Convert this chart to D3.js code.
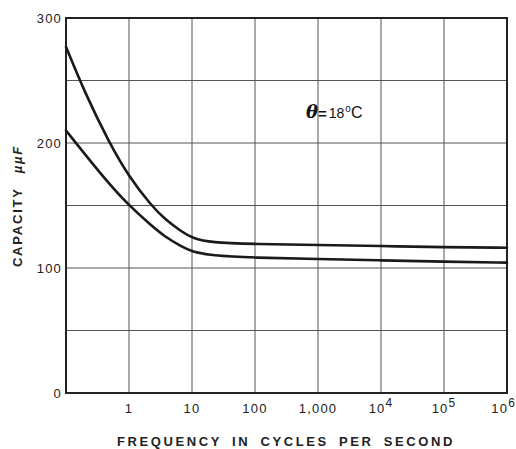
<!DOCTYPE html>
<html>
<head>
<meta charset="utf-8">
<script src="https://cdn.jsdelivr.net/npm/d3@7"></script>
<style>
  body { margin: 0; background: #fff; }
  svg { display: block; font-family: "Liberation Sans", Arial, sans-serif; }
</style>
</head>
<body>
<svg id="chart" width="516" height="449"></svg>
<script>
// Frequency (c/s) and capacity (µµF) at 18 °C
const upperFreq = [0.1, 0.2, 0.488, 1, 2.26, 3.7, 6.9, 10, 20, 100, 1000, 1e4, 1e5, 1e6];
const upperCap  = [277, 240, 200, 173, 150, 139, 129, 124, 120.2, 119.2, 118.4, 117.6, 116.6, 116.2];
const lowerFreq = [0.1, 0.43, 1, 2.26, 3.7, 6.9, 10, 20, 100, 1000, 1e4, 1e5, 1e6];
const lowerCap  = [210, 170, 150, 134, 125, 117, 113, 110, 108.2, 107.2, 106.1, 105, 104.3];

const xTicks = [1, 10, 100, 1000, 1e4, 1e5, 1e6];
const xTickLabels = ["1", "10", "100", "1,000", "10|4", "10|5", "10|6"];
const yTicks = [0, 100, 200, 300];
const yGrid = [50, 100, 150, 200, 250];

const svg = d3.select("#chart");
const m = { left: 66, right: 507, top: 18, bottom: 393 };

const x = d3.scaleLog().domain([0.1, 1e6]).range([m.left, m.right]);
const y = d3.scaleLinear().domain([0, 300]).range([m.bottom, m.top]);

// grid
svg.append("g").selectAll("line").data(xTicks).join("line")
  .attr("x1", d => x(d)).attr("x2", d => x(d))
  .attr("y1", m.top).attr("y2", m.bottom)
  .attr("stroke", "#555").attr("stroke-width", 1);
svg.append("g").selectAll("line").data(yGrid).join("line")
  .attr("x1", m.left).attr("x2", m.right)
  .attr("y1", d => y(d)).attr("y2", d => y(d))
  .attr("stroke", "#555").attr("stroke-width", 1);

// frame
svg.append("rect")
  .attr("x", m.left).attr("y", m.top)
  .attr("width", m.right - m.left).attr("height", m.bottom - m.top)
  .attr("fill", "none").attr("stroke", "#222").attr("stroke-width", 2);

// curves (smoothed B-spline through the measured points)
const line = d3.line().curve(d3.curveBasis);
function drawCurve(fs, cs) {
  svg.append("path")
    .attr("d", line(fs.map((f, i) => [x(f), y(cs[i])])))
    .attr("fill", "none").attr("stroke", "#1a1a1a").attr("stroke-width", 2.6)
    .attr("stroke-linecap", "round");
}
drawCurve(upperFreq, upperCap);
drawCurve(lowerFreq, lowerCap);

// y tick labels
svg.append("g").selectAll("text").data(yTicks).join("text")
  .attr("x", m.left - 4).attr("y", d => y(d) + 5)
  .attr("text-anchor", "end").attr("font-size", 13).attr("letter-spacing", 1.2)
  .attr("fill", "#222")
  .text(d => d);

// x tick labels (powers shown with superscript exponent)
const last = xTicks.length - 1;
const xl = svg.append("g").selectAll("text").data(xTicks).join("text")
  .attr("x", (d, i) => i === last ? x(d) + 9 : x(d)).attr("y", 413)
  .attr("text-anchor", (d, i) => i === last ? "end" : "middle")
  .attr("font-size", 13).attr("letter-spacing", 1.2).attr("fill", "#222");
xl.each(function (d, i) {
  const parts = xTickLabels[i].split("|");
  const t = d3.select(this);
  t.append("tspan").text(parts[0]);
  if (parts[1]) {
    t.append("tspan").attr("dy", -6).attr("font-size", 12).text(parts[1]);
  }
});

// axis titles
svg.append("text")
  .attr("x", 286).attr("y", 446)
  .attr("text-anchor", "middle").attr("font-size", 13).attr("font-weight", "bold")
  .attr("letter-spacing", 2.6).attr("word-spacing", 4).attr("fill", "#222")
  .text("FREQUENCY IN CYCLES PER SECOND");

const yt = svg.append("text")
  .attr("transform", "translate(22,206) rotate(-90)")
  .attr("text-anchor", "middle").attr("font-size", 13).attr("font-weight", "bold")
  .attr("letter-spacing", 1.8).attr("fill", "#222");
yt.append("tspan").text("CAPACITY");
yt.append("tspan").attr("dx", 14).attr("font-style", "italic").text("\u00b5\u00b5F");

// temperature note
const note = svg.append("text")
  .attr("x", 306).attr("y", 118).attr("font-size", 14).attr("fill", "#111");
note.append("tspan").attr("font-style", "italic").attr("font-size", 18)
  .attr("font-family", "DejaVu Serif, serif").attr("font-weight", "bold").text("\u03b8");
note.append("tspan").attr("font-weight", "bold").attr("font-size", 15).attr("dy", 1).text("=");
note.append("tspan").attr("dx", 2).attr("dy", -1).text("18");
note.append("tspan").attr("dx", 1).attr("dy", -6).attr("font-size", 10).text("o");
note.append("tspan").attr("dy", 6).attr("font-size", 16).text("C");
</script>
</body>
</html>
